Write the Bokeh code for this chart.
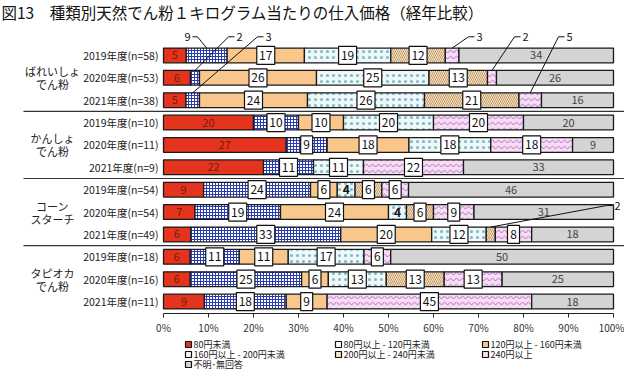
from bokeh.plotting import figure
from bokeh.models import Range1d, FixedTicker, ColumnDataSource
from bokeh.layouts import column
from bokeh.core.properties import value
from bokeh.embed import file_html
from bokeh.resources import INLINE

FONT = "Noto Sans CJK JP"

# ---------------- data ----------------
title_text = "図13　種類別天然でん粉１キログラム当たりの仕入価格（経年比較）"
groups = [["ばれいしょ", "でん粉"], ["かんしょ", "でん粉"], ["コーン", "スターチ"], ["タピオカ", "でん粉"]]
years = ["2019年度(n=58)", "2020年度(n=53)", "2021年度(n=38)",
         "2019年度(n=10)", "2020年度(n=11)", "2021年度(n=9)",
         "2019年度(n=54)", "2020年度(n=54)", "2021年度(n=49)",
         "2019年度(n=18)", "2020年度(n=16)", "2021年度(n=11)"]
series = ["80円未満", "80円以上 - 120円未満", "120円以上 - 160円未満",
          "160円以上 - 200円未満", "200円以上 - 240円未満", "240円以上", "不明･無回答"]
v_lt80 = [5, 6, 5, 20, 27, 22, 9, 7, 6, 6, 6, 9]
v_80_120 = [9, 2, 3, 10, 9, 11, 24, 19, 33, 11, 25, 18]
v_120_160 = [17, 26, 24, 10, 18, 0, 6, 24, 20, 11, 6, 9]
v_160_200 = [19, 25, 26, 20, 18, 11, 4, 4, 12, 17, 13, 0]
v_200_240 = [12, 13, 21, 0, 0, 0, 6, 6, 2, 0, 13, 0]
v_ge240 = [3, 2, 5, 20, 18, 22, 6, 9, 8, 6, 13, 45]
v_unknown = [34, 26, 16, 20, 9, 33, 46, 31, 18, 50, 25, 18]
x_ticks = [0, 10, 20, 30, 40, 50, 60, 70, 80, 90, 100]
x_tick_labels = ["0%", "10%", "20%", "30%", "40%", "50%", "60%", "70%", "80%", "90%", "100%"]

values = [v_lt80, v_80_120, v_120_160, v_160_200, v_200_240, v_ge240, v_unknown]

# ---------------- styles ----------------
styles = [
    dict(fill="#E5341E", hatch=None, hcol=None, hscale=None, lab="red"),
    dict(fill="#FFFFFF", hatch="cross", hcol="#2B3CB0", hscale=3.0, lab="box"),
    dict(fill="#F9C78C", hatch=None, hcol=None, hscale=None, lab="box"),
    dict(fill="#EEF8F9", hatch="dot", hcol="#7DB8C6", hscale=6, lab="box"),
    dict(fill="#F6E3C9", hatch="left_diagonal_line", hcol="#C49A66", hscale=4, lab="box"),
    dict(fill="#F5DDF4", hatch="horizontal_wave", hcol="#B16CC4", hscale=6, lab="box"),
    dict(fill="#D4D4D4", hatch=None, hcol=None, hscale=None, lab="grey"),
]

# layout helpers (canvas pixel -> data)
X0, XS = 163.0, 4.5
Y0, YS = 56.0, 22.8
def dx(px): return (px - X0) / XS
def dy(py): return (py - Y0) / YS

W, H_MAIN, H_LEG = 624, 337, 33
BAR_H = 0.66

# callouts: (series, row, label x, label y, stub side)
callouts = [(1, 0, 187, 37, "right"), (1, 1, 239, 37, "left"), (1, 2, 268, 37, "left"),
            (5, 0, 479, 37, "left"), (5, 1, 525, 37, "left"), (5, 2, 569, 37, "left"),
            (4, 8, 617, 209, "left")]
callout_keys = {(c[0], c[1]) for c in callouts}

p = figure(width=W, height=H_MAIN, output_backend="svg", toolbar_location=None,
           x_range=Range1d(dx(0), dx(W)), y_range=Range1d(dy(319), dy(0)),
           min_border_left=0, min_border_right=0, min_border_top=0, min_border_bottom=18,
           y_axis_location=None, title=None)
p.xgrid.visible = False
p.ygrid.visible = False
p.outline_line_color = None
p.background_fill_color = "white"
p.border_fill_color = "white"

xa = p.xaxis[0]
xa.ticker = FixedTicker(ticks=x_ticks)
xa.bounds = (0, 100)
xa.major_label_overrides = {t: l for t, l in zip(x_ticks, x_tick_labels)}
xa.minor_tick_line_color = None
xa.major_tick_in = 0
xa.major_tick_out = 4
xa.axis_line_color = "#222222"
xa.major_tick_line_color = "#222222"
xa.major_label_text_font = FONT
xa.major_label_text_font_size = "10px"
xa.major_label_text_color = "#333333"
xa.major_label_standoff = 2

rows = list(range(len(years)))
totals = [sum(v[r] for v in values) for r in rows]

box_x, box_y, box_w, box_t = [], [], [], []
red_x, red_y, red_t = [], [], []
grey_x, grey_y, grey_t = [], [], []
bold_x, bold_y, bold_t = [], [], []
seg_center = {}

cum = [0.0] * len(rows)
for si, (vals, st) in enumerate(zip(values, styles)):
    ys, ls, rs = [], [], []
    for r in rows:
        v = vals[r]
        left = cum[r] / totals[r] * 100
        cum[r] += v
        right = cum[r] / totals[r] * 100
        if v <= 0:
            continue
        ys.append(r); ls.append(left); rs.append(right)
        c = (left + right) / 2
        seg_center[(si, r)] = c
        if (si, r) in callout_keys:
            continue
        if st["lab"] == "red":
            red_x.append(c); red_y.append(r); red_t.append(str(v))
        elif st["lab"] == "grey":
            grey_x.append(c); grey_y.append(r); grey_t.append(str(v))
        elif v >= 5:
            box_x.append(c); box_y.append(r); box_t.append(str(v))
            box_w.append(12 if v < 10 else 18)
        else:
            bold_x.append(c); bold_y.append(r); bold_t.append(str(v))
    src = ColumnDataSource(dict(y=ys, left=ls, right=rs))
    kw = dict(fill_color=st["fill"], line_color="#1a1a1a", line_width=1.3)
    if st["hatch"]:
        kw.update(hatch_pattern=st["hatch"], hatch_color=st["hcol"],
                  hatch_scale=st["hscale"], hatch_weight=1)
    p.hbar(y="y", left="left", right="right", height=BAR_H, source=src, **kw)

# label boxes
p.rect(x=box_x, y=box_y, width=box_w, height=[18] * len(box_x),
       width_units="screen", height_units="screen",
       fill_color="white", line_color="#111111", line_width=1.2)
p.text(x=box_x, y=box_y, text=box_t, text_font=value(FONT), text_font_size="12px",
       text_align="center", text_baseline="middle", text_color="#111111")
p.text(x=red_x, y=red_y, text=red_t, text_font=value(FONT), text_font_size="11px",
       text_align="center", text_baseline="middle", text_color="#7A1A0E")
p.text(x=grey_x, y=grey_y, text=grey_t, text_font=value(FONT), text_font_size="11px",
       text_align="center", text_baseline="middle", text_color="#444444")
p.text(x=bold_x, y=bold_y, text=bold_t, text_font=value(FONT), text_font_size="12px",
       text_font_style="bold", text_align="center", text_baseline="middle", text_color="#111111")

# callout lines and numbers
cx, cy, ct = [], [], []
lx, ly = [], []
for si, r, lpx, lpy, side in callouts:
    cx.append(dx(lpx)); cy.append(dy(lpy)); ct.append(str(values[si][r]))
    if side == "right":
        s0, s1 = lpx + 5, lpx + 10
    else:
        s0, s1 = lpx - 5, lpx - 11
    lx.append([dx(s0), dx(s1), seg_center[(si, r)]])
    ly.append([dy(lpy), dy(lpy), r - BAR_H / 2])
p.multi_line(xs=lx, ys=ly, line_color="#111111", line_width=1)
p.text(x=cx, y=cy, text=ct, text_font=value(FONT), text_font_size="11px",
       text_align="center", text_baseline="middle", text_color="#111111")

# year labels
p.text(x=[dx(158)] * len(years), y=rows, text=years, text_font=value(FONT),
       text_font_size="10.5px", text_align="right", text_baseline="middle", text_color="#222222")
# group labels
for gi, g in enumerate(groups):
    rc = gi * 3 + 1
    p.text(x=[dx(52)], y=[rc], text=[g[0]], y_offset=-6.5, text_font=value(FONT),
           text_font_size="11px", text_align="center", text_baseline="middle", text_color="#222222")
    p.text(x=[dx(52)], y=[rc], text=[g[1]], y_offset=6.5, text_font=value(FONT),
           text_font_size="11px", text_align="center", text_baseline="middle", text_color="#222222")
# separators
seps = [2.5, 5.5, 8.5]
p.segment(x0=[dx(23)] * 3, x1=[dx(W)] * 3, y0=seps, y1=seps, line_color="#333333", line_width=1.2)

# title
p.text(x=[dx(1)], y=[dy(12)], text=[title_text], text_font=value(FONT), text_font_size="15.5px",
       text_align="left", text_baseline="middle", text_color="#111111")

# ---------------- legend figure ----------------
q = figure(width=W, height=H_LEG, output_backend="svg", toolbar_location=None,
           x_range=Range1d(dx(0), dx(W)), y_range=Range1d(H_MAIN + H_LEG, H_MAIN),
           min_border=0, x_axis_location=None, y_axis_location=None, title=None)
q.xgrid.visible = False
q.ygrid.visible = False
q.outline_line_color = None
q.background_fill_color = "white"
q.border_fill_color = "white"
leg_px = [188, 338, 485]
leg_py = [344, 354, 364]
mx, my, mc, tx, ty = [], [], [], [], []
for i, name in enumerate(series):
    col, row = i % 3, i // 3
    mx.append(dx(leg_px[col])); my.append(leg_py[row]); mc.append(styles[i]["fill"])
    tx.append(dx(leg_px[col] + 5)); ty.append(leg_py[row])
q.scatter(x=mx, y=my, marker="square", size=6, fill_color=mc, line_color="#111111", line_width=1.2)
q.text(x=tx, y=ty, text=series, text_font=value(FONT), text_font_size="9px",
       text_align="left", text_baseline="middle", text_color="#222222")

layout = column(p, q, spacing=0)
open("out.html", "w").write(file_html(layout, INLINE))
